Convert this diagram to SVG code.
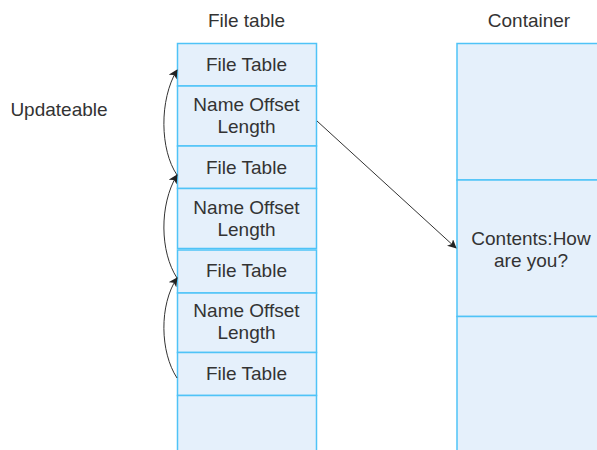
<svg xmlns="http://www.w3.org/2000/svg" width="597" height="450" viewBox="0 0 597 450">
  <style>
    .cell { fill: #e5f0fb; stroke: #4fc3f7; stroke-width: 1.5; }
    .lbl { font-family: "Liberation Sans", Arial, sans-serif; font-size: 19px; fill: #333333; text-anchor: middle; }
    .edge { fill: none; stroke: #333333; stroke-width: 1; }
  </style>
  <defs>
    <marker id="arrow" viewBox="0 0 10 10" refX="9" refY="5" markerWidth="9" markerHeight="9" markerUnits="userSpaceOnUse" orient="auto">
      <path d="M0,0 L10,5 L0,10 L2.5,5 Z" fill="#222222"/>
    </marker>
  </defs>
  <rect width="597" height="450" fill="#ffffff"/>

  <!-- column titles -->
  <text class="lbl" x="246.5" y="27">File table</text>
  <text class="lbl" x="59" y="116">Updateable</text>
  <text class="lbl" x="529" y="27">Container</text>

  <!-- file table column -->
  <g id="ft1"><rect class="cell" x="177.5" y="43.5" width="139" height="42.5"/><text class="lbl" x="246.5" y="71">File Table</text></g>
  <g id="nol1"><rect class="cell" x="177.5" y="86" width="139" height="60"/><text class="lbl" x="246.5" y="111">Name Offset</text><text class="lbl" x="246.5" y="133">Length</text></g>
  <g id="ft2"><rect class="cell" x="177.5" y="146" width="139" height="42.5"/><text class="lbl" x="246.5" y="174">File Table</text></g>
  <g id="nol2"><rect class="cell" x="177.5" y="188.5" width="139" height="60"/><text class="lbl" x="246.5" y="214">Name Offset</text><text class="lbl" x="246.5" y="236">Length</text></g>
  <g id="ft3"><rect class="cell" x="177.5" y="250" width="139" height="43"/><text class="lbl" x="246.5" y="277">File Table</text></g>
  <g id="nol3"><rect class="cell" x="177.5" y="293" width="139" height="59.5"/><text class="lbl" x="246.5" y="317">Name Offset</text><text class="lbl" x="246.5" y="339">Length</text></g>
  <g id="ft4"><rect class="cell" x="177.5" y="352.5" width="139" height="43"/><text class="lbl" x="246.5" y="380">File Table</text></g>
  <g id="empty"><rect class="cell" x="177.5" y="395.5" width="139" height="60"/></g>

  <!-- container column -->
  <g id="c1"><rect class="cell" x="457" y="43.5" width="150" height="136.5"/></g>
  <g id="c2"><rect class="cell" x="457" y="180" width="150" height="136.5"/><text class="lbl" x="531" y="245">Contents:How</text><text class="lbl" x="531" y="267">are you?</text></g>
  <g id="c3"><rect class="cell" x="457" y="316.5" width="150" height="140"/></g>

  <!-- connectors -->
  <g id="connectors">
    <path class="edge" d="M317,121 L456,248" marker-end="url(#arrow)"/>
    <path class="edge" d="M177,175 C160,150 159,100 177,70" marker-end="url(#arrow)"/>
    <path class="edge" d="M177,278 C160,252 159,205 177,175" marker-end="url(#arrow)"/>
    <path class="edge" d="M177,378 C160,352 159,305 177,278" marker-end="url(#arrow)"/>
  </g>
</svg>
